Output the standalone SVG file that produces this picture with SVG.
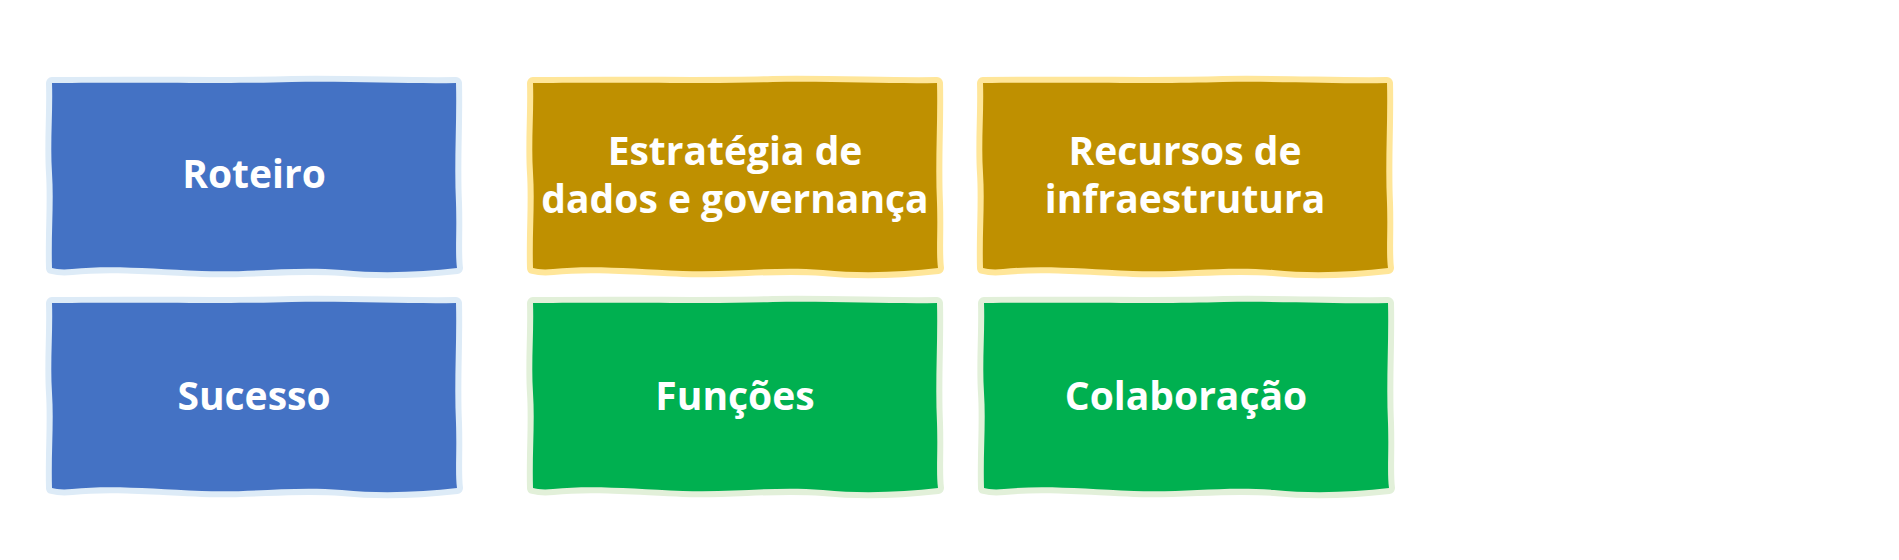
<svg xmlns="http://www.w3.org/2000/svg" xmlns:xlink="http://www.w3.org/1999/xlink" width="1899" height="560" viewBox="0 0 1899 560">
  <defs>
    <path id="box" d="M0,0 C120,-1 180,1 240,-1 C300,-2 360,1 404,0 C405,40 402,80 404,120 C405,150 403,170 405,185 C370,189 330,191 290,187 C240,183 200,190 150,188 C100,186 60,182 20,186 C10,187 4,186 0,185 C-1,150 2,120 0,90 C-2,60 1,30 0,0 Z"/>
  </defs>
  <style>
    .blue { fill: #4472C4; stroke: #DDEBF7; }
    .gold { fill: #BF9000; stroke: #FFE699; }
    .green { fill: #00B050; stroke: #E2F0D9; }
    .shape { stroke-width: 12; paint-order: stroke; stroke-linejoin: round; }
    .label { font-family: "Open Sans", "Noto Sans", sans-serif; font-weight: bold; font-size: 39px; fill: #FFFFFF; text-anchor: middle; }
  </style>
  <rect x="0" y="0" width="1899" height="560" fill="#FFFFFF"/>
  <g id="connectors"></g>
  <g id="node-roteiro">
    <use xlink:href="#box" href="#box" class="shape blue" x="52" y="83"/>
    <text class="label" x="254" y="188">Roteiro</text>
  </g>
  <g id="node-estrategia">
    <use xlink:href="#box" href="#box" class="shape gold" x="533" y="83"/>
    <text class="label" x="735" y="165">Estratégia de<tspan x="735" dy="48">dados e governança</tspan></text>
  </g>
  <g id="node-recursos">
    <use xlink:href="#box" href="#box" class="shape gold" x="983" y="83"/>
    <text class="label" x="1185" y="165">Recursos de<tspan x="1185" dy="48">infraestrutura</tspan></text>
  </g>
  <g id="node-sucesso">
    <use xlink:href="#box" href="#box" class="shape blue" x="52" y="303"/>
    <text class="label" x="254" y="410">Sucesso</text>
  </g>
  <g id="node-funcoes">
    <use xlink:href="#box" href="#box" class="shape green" x="533" y="303"/>
    <text class="label" x="735" y="410">Funções</text>
  </g>
  <g id="node-colaboracao">
    <use xlink:href="#box" href="#box" class="shape green" x="984" y="303"/>
    <text class="label" x="1186" y="410">Colaboração</text>
  </g>
</svg>
